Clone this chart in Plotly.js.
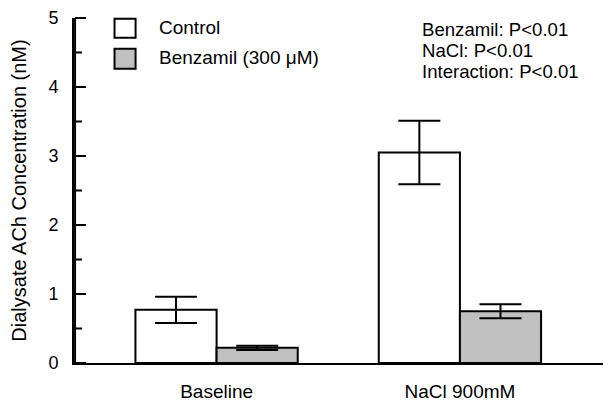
<!DOCTYPE html>
<html>
<head>
<meta charset="utf-8">
<script src="https://cdn.plot.ly/plotly-3.0.1.min.js"></script>
<style>html,body{margin:0;padding:0;background:#fff;}#chart{width:609px;height:401px;}</style>
</head>
<body>
<div id="chart"></div>
<script>
var categories = ["Baseline", "NaCl 900mM"];
var controlValues = [0.77, 3.05];
var controlErrors = [0.19, 0.46];
var benzamilValues = [0.22, 0.75];
var benzamilErrors = [0.03, 0.10];
var seriesNames = ["Control", "Benzamil (300 \u03bcM)"];
var statsLines = ["Benzamil: P<0.01", "NaCl: P<0.01", "Interaction: P<0.01"];
var yRange = [0, 5];
var yMajorStep = 1;
var yMinorStep = 0.5;

var FONT = "Arial, 'Liberation Sans', sans-serif";

var traces = [
  {
    type: "bar", name: seriesNames[0], x: categories, y: controlValues,
    marker: {color: "#ffffff", line: {color: "#000000", width: 2}},
    error_y: {type: "data", array: controlErrors, visible: true, color: "#000000", thickness: 2, width: 21},
    showlegend: false
  },
  {
    type: "bar", name: seriesNames[1], x: categories, y: benzamilValues,
    marker: {color: "#c0c0c0", line: {color: "#000000", width: 2}},
    error_y: {type: "data", array: benzamilErrors, visible: true, color: "#000000", thickness: 2, width: 21},
    showlegend: false
  }
];

var legendBoxes = [
  {x0: 0.0766, x1: 0.1164, y0: 0.943, y1: 0.998, fill: "#ffffff"},
  {x0: 0.0766, x1: 0.1164, y0: 0.853, y1: 0.911, fill: "#c0c0c0"}
];
var shapes = legendBoxes.map(function (b) {
  return {type: "rect", xref: "paper", yref: "paper", x0: b.x0, x1: b.x1, y0: b.y0, y1: b.y1,
    fillcolor: b.fill, line: {color: "#000000", width: 2}};
});

// y-axis spine and inside tick marks (axis decoration), in paper coordinates
var spineX = 0.002;
var yToPaper = function (v) { return (v - yRange[0]) / (yRange[1] - yRange[0]); };
shapes.push({type: "line", layer: "above", xref: "paper", yref: "paper", x0: spineX, x1: spineX,
  y0: yToPaper(yRange[0]), y1: yToPaper(yRange[1]), line: {color: "#000000", width: 2}});
var nSteps = Math.round((yRange[1] - yRange[0]) / yMinorStep);
for (var k = 0; k <= nSteps; k++) {
  var v = yRange[0] + k * yMinorStep;
  var isMajor = Math.abs(v / yMajorStep - Math.round(v / yMajorStep)) < 1e-9;
  shapes.push({type: "line", layer: "above", xref: "paper", yref: "paper", x0: spineX,
    x1: spineX + (isMajor ? 0.0208 : 0.0132), y0: yToPaper(v), y1: yToPaper(v),
    line: {color: "#000000", width: 2}});
}

var annotations = [];
var legendY = [0.972, 0.885];
seriesNames.forEach(function (n, i) {
  annotations.push({xref: "paper", yref: "paper", x: 0.156, y: legendY[i], xanchor: "left", yanchor: "middle",
    text: n, showarrow: false, font: {family: FONT, size: 19, color: "#000000"}});
});
var statsY = [0.967, 0.907, 0.846];
statsLines.forEach(function (t, i) {
  annotations.push({xref: "paper", yref: "paper", x: 0.655, y: statsY[i], xanchor: "left", yanchor: "middle",
    text: t, showarrow: false, font: {family: FONT, size: 18.6, color: "#000000"}});
});

var layout = {
  width: 609, height: 401,
  margin: {l: 74, r: 6, t: 18, b: 38},
  paper_bgcolor: "#ffffff", plot_bgcolor: "rgba(0,0,0,0)",
  font: {family: FONT, size: 18, color: "#000000"},
  barmode: "group", bargap: 0.333, bargroupgap: 0,
  showlegend: false,
  xaxis: {
    type: "category", range: [-0.586, 1.588],
    showline: true, linecolor: "#000000", linewidth: 2,
    ticks: "outside", ticklen: 10, tickcolor: "rgba(0,0,0,0)", showgrid: false, zeroline: false,
    tickfont: {family: FONT, size: 19, color: "#000000"}
  },
  yaxis: {
    range: yRange, tickmode: "linear", tick0: yRange[0], dtick: yMajorStep,
    showline: true, linecolor: "#000000", linewidth: 2,
    ticks: "inside", ticklen: 11, tickwidth: 2, tickcolor: "#000000",
    showgrid: false, zeroline: false,
    tickfont: {family: FONT, size: 18, color: "#000000"},
    ticksuffix: "\u00a0\u00a0",
    automargin: true,
    title: {text: "Dialysate ACh Concentration (nM)", font: {family: FONT, size: 20, color: "#000000"}, standoff: 16}
  },
  shapes: shapes,
  annotations: annotations
};

Plotly.newPlot("chart", traces, layout, {displayModeBar: false, staticPlot: true});
</script>
</body>
</html>
